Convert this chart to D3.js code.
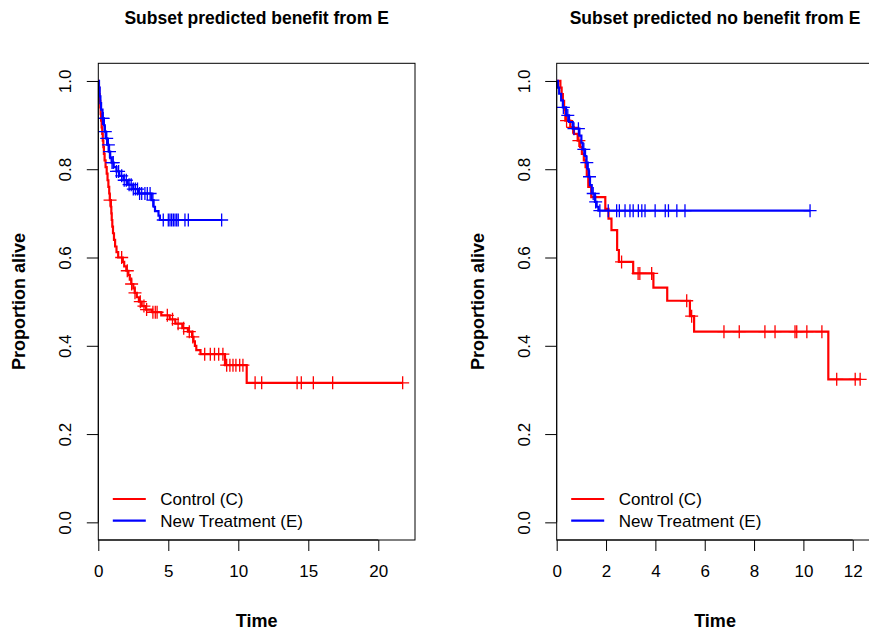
<!DOCTYPE html>
<html>
<head>
<meta charset="utf-8">
<script src="https://cdn.jsdelivr.net/npm/d3@7"></script>
<style>
  body { margin: 0; background: #fff; }
  svg { display: block; font-family: "Liberation Sans", Arial, sans-serif; }
</style>
</head>
<body>
<script>
// Left panel: subset predicted benefit from E
var leftCtrlTimes = [0.02, 0.06, 0.1, 0.14, 0.17, 0.2, 0.24, 0.28, 0.32, 0.36, 0.4, 0.45, 0.52, 0.6, 0.66, 0.72, 0.78, 0.82, 0.9, 0.93, 0.96, 1.0, 1.05, 1.12, 1.2, 1.3, 1.42, 1.75, 1.85, 2.0, 2.15, 2.25, 2.35, 2.5, 2.6, 2.75, 2.9, 3.1, 3.4, 3.85, 4.5, 5.1, 5.5, 6.0, 6.4, 6.7, 6.8, 6.9, 7.0, 7.3, 9.05, 10.6];
var leftCtrlSurv = [0.985, 0.97, 0.955, 0.94, 0.925, 0.91, 0.895, 0.88, 0.865, 0.85, 0.835, 0.82, 0.805, 0.79, 0.775, 0.76, 0.745, 0.73, 0.715, 0.7, 0.685, 0.67, 0.655, 0.64, 0.625, 0.612, 0.6, 0.59, 0.58, 0.57, 0.56, 0.55, 0.54, 0.53, 0.52, 0.51, 0.5, 0.49, 0.482, 0.476, 0.469, 0.46, 0.45, 0.44, 0.432, 0.42, 0.41, 0.4, 0.39, 0.381, 0.356, 0.316];
var leftCtrlCens = [0.84, 1.67, 2.07, 2.38, 2.62, 3.0, 3.26, 3.45, 3.9, 4.07, 4.2, 4.93, 5.3, 5.7, 6.1, 6.5, 6.75, 7.6, 8.0, 8.3, 8.6, 8.9, 9.17, 9.4, 9.62, 9.83, 10.1, 10.33, 11.2, 11.67, 14.2, 14.5, 15.36, 16.74, 21.74];

var leftTrtTimes = [0.05, 0.1, 0.15, 0.2, 0.3, 0.4, 0.45, 0.55, 0.65, 0.75, 0.85, 0.95, 1.1, 1.3, 1.5, 1.8, 2.1, 2.5, 2.9, 3.8, 3.95, 4.05, 4.3, 4.4];
var leftTrtSurv = [0.985, 0.965, 0.95, 0.935, 0.915, 0.9, 0.885, 0.87, 0.855, 0.84, 0.825, 0.815, 0.805, 0.795, 0.785, 0.775, 0.765, 0.755, 0.745, 0.73, 0.715, 0.705, 0.695, 0.685];
var leftTrtCens = [0.3, 0.35, 0.5, 0.6, 0.72, 0.8, 0.98, 1.07, 1.3, 1.45, 1.67, 1.85, 2.0, 2.2, 2.35, 2.5, 2.65, 2.8, 2.95, 3.1, 3.33, 3.5, 3.7, 3.9, 4.64, 5.0, 5.12, 5.24, 5.36, 5.48, 5.6, 5.71, 6.19, 6.43, 8.81];

// Right panel: subset predicted no benefit from E
var rightCtrlTimes = [0.15, 0.2, 0.25, 0.3, 0.35, 0.55, 0.7, 0.85, 0.95, 1.02, 1.1, 1.17, 1.22, 1.28, 1.4, 1.97, 2.1, 2.22, 2.45, 2.52, 3.1, 3.92, 4.48, 5.4, 5.57, 11.01];
var rightCtrlSurv = [0.985, 0.97, 0.955, 0.935, 0.91, 0.895, 0.88, 0.865, 0.85, 0.835, 0.82, 0.805, 0.785, 0.76, 0.737, 0.71, 0.688, 0.662, 0.617, 0.59, 0.564, 0.532, 0.502, 0.467, 0.432, 0.324];
var rightCtrlCens = [0.4, 0.65, 0.9, 2.63, 3.3, 3.37, 3.85, 5.27, 5.47, 6.78, 7.4, 8.44, 8.85, 9.66, 9.73, 10.14, 10.75, 11.35, 12.1, 12.3];

var rightTrtTimes = [0.05, 0.1, 0.18, 0.25, 0.38, 0.5, 0.65, 0.92, 1.0, 1.05, 1.15, 1.2, 1.26, 1.3, 1.35, 1.42, 1.55, 1.62, 1.69];
var rightTrtSurv = [0.985, 0.971, 0.956, 0.94, 0.922, 0.907, 0.892, 0.876, 0.86, 0.845, 0.83, 0.815, 0.8, 0.783, 0.764, 0.745, 0.726, 0.715, 0.706];
var rightTrtCens = [0.27, 0.45, 0.7, 0.88, 1.1, 1.22, 1.33, 1.48, 1.58, 1.75, 2.09, 2.43, 2.54, 2.77, 2.97, 3.1, 3.31, 3.45, 3.58, 3.99, 4.4, 4.53, 4.87, 5.2, 10.27];

var yTicks = [0, 0.2, 0.4, 0.6, 0.8, 1.0];
var leftXTicks = [0, 5, 10, 15, 20];
var rightXTicks = [0, 2, 4, 6, 8, 10, 12];
var legendLabels = ["Control (C)", "New Treatment (E)"];
var seriesColors = ["#ff0000", "#0000ff"];

var W = 869, H = 631;
var svg = d3.select("body").append("svg").attr("width", W).attr("height", H);

function survAt(times, surv, t) {
    var s = 1;
    for (var i = 0; i < times.length; i++) {
        if (times[i] <= t) s = surv[i];
    }
    return s;
}

function drawPanel(opt) {
    var x = d3.scaleLinear().domain([0, opt.xmax]).range([opt.left, opt.left + 316.7]);
    var y = d3.scaleLinear().domain([-0.04, 1.04]).range([540, 63.3]);
    var g = svg.append("g");
    var clipId = "clip" + opt.id;
    g.append("clipPath").attr("id", clipId).append("rect")
        .attr("x", opt.left).attr("y", 63.3).attr("width", 316.7).attr("height", 476.7);

    var line = d3.line()
        .x(function (d) { return x(d[0]); })
        .y(function (d) { return y(d[1]); })
        .curve(d3.curveStepAfter);

    var plot = g.append("g").attr("clip-path", "url(#" + clipId + ")");
    opt.series.forEach(function (s, si) {
        var pts = [[0, 1]];
        s.times.forEach(function (t, i) { pts.push([t, s.surv[i]]); });
        var last = d3.max(s.cens.concat(s.times));
        pts.push([last, survAt(s.times, s.surv, last)]);
        plot.append("path").attr("d", line(pts))
            .attr("fill", "none").attr("stroke", seriesColors[si])
            .attr("stroke-width", 2.2);
        var h = 6.5;
        plot.selectAll(null).data(s.cens).enter().append("path")
            .attr("d", function (t) {
                var cx = x(t), cy = y(survAt(s.times, s.surv, t));
                return "M" + (cx - h) + "," + cy + "H" + (cx + h) + "M" + cx + "," + (cy - h) + "V" + (cy + h);
            })
            .attr("fill", "none").attr("stroke", seriesColors[si]).attr("stroke-width", 1.3);
    });

    // box
    g.append("rect").attr("x", opt.left).attr("y", 63.3).attr("width", 316.7).attr("height", 476.7)
        .attr("fill", "none").attr("stroke", "#000").attr("stroke-width", 1);

    // x axis
    var xa = g.append("g").attr("transform", "translate(0,540)")
        .call(d3.axisBottom(x).tickValues(opt.xticks).tickSize(11).tickPadding(14).tickFormat(d3.format("d")));
    xa.select(".domain").attr("d", "M" + x(opt.xticks[0]) + ",0H" + x(opt.xticks[opt.xticks.length - 1]));
    xa.selectAll("text").attr("font-size", 17).attr("font-family", "Liberation Sans, Arial, sans-serif").attr("fill", "#000");

    // y axis
    var ya = g.append("g").attr("transform", "translate(" + opt.left + ",0)")
        .call(d3.axisLeft(y).tickValues(yTicks).tickSize(11.5).tickFormat(d3.format(".1f")));
    ya.select(".domain").attr("d", "M0," + y(0) + "V" + y(1));
    ya.selectAll("text").remove();
    ya.selectAll(".tick").append("text")
        .attr("transform", "translate(-33,0) rotate(-90)")
        .attr("text-anchor", "middle").attr("dy", "0.35em")
        .attr("font-size", 17).attr("fill", "#000")
        .text(function (d) { return d3.format(".1f")(d); });

    // titles
    var cx = opt.left + 316.7 / 2;
    g.append("text").attr("x", cx).attr("y", 24).attr("text-anchor", "middle")
        .attr("font-weight", "bold").attr("font-size", 17.5).text(opt.title);
    g.append("text").attr("x", cx).attr("y", 627).attr("text-anchor", "middle")
        .attr("font-weight", "bold").attr("font-size", 18).text("Time");
    g.append("text").attr("transform", "translate(" + (opt.left - 73) + ",301.5) rotate(-90)")
        .attr("text-anchor", "middle").attr("font-weight", "bold").attr("font-size", 18)
        .text("Proportion alive");

    // legend
    legendLabels.forEach(function (lab, i) {
        var ly = 499 + i * 21.7;
        g.append("line").attr("x1", opt.left + 14.5).attr("x2", opt.left + 47.5)
            .attr("y1", ly).attr("y2", ly).attr("stroke", seriesColors[i]).attr("stroke-width", 2.2);
        g.append("text").attr("x", opt.left + 62).attr("y", ly).attr("dy", "0.35em")
            .attr("font-size", 17).text(lab);
    });
}

drawPanel({
    id: "L", left: 98.3, xmax: 316.7 / 14, xticks: leftXTicks,
    title: "Subset predicted benefit from E",
    series: [
        { times: leftCtrlTimes, surv: leftCtrlSurv, cens: leftCtrlCens },
        { times: leftTrtTimes, surv: leftTrtSurv, cens: leftTrtCens }
    ]
});
drawPanel({
    id: "R", left: 556.7, xmax: 316.7 / 24.67, xticks: rightXTicks,
    title: "Subset predicted no benefit from E",
    series: [
        { times: rightCtrlTimes, surv: rightCtrlSurv, cens: rightCtrlCens },
        { times: rightTrtTimes, surv: rightTrtSurv, cens: rightTrtCens }
    ]
});
</script>
</body>
</html>
